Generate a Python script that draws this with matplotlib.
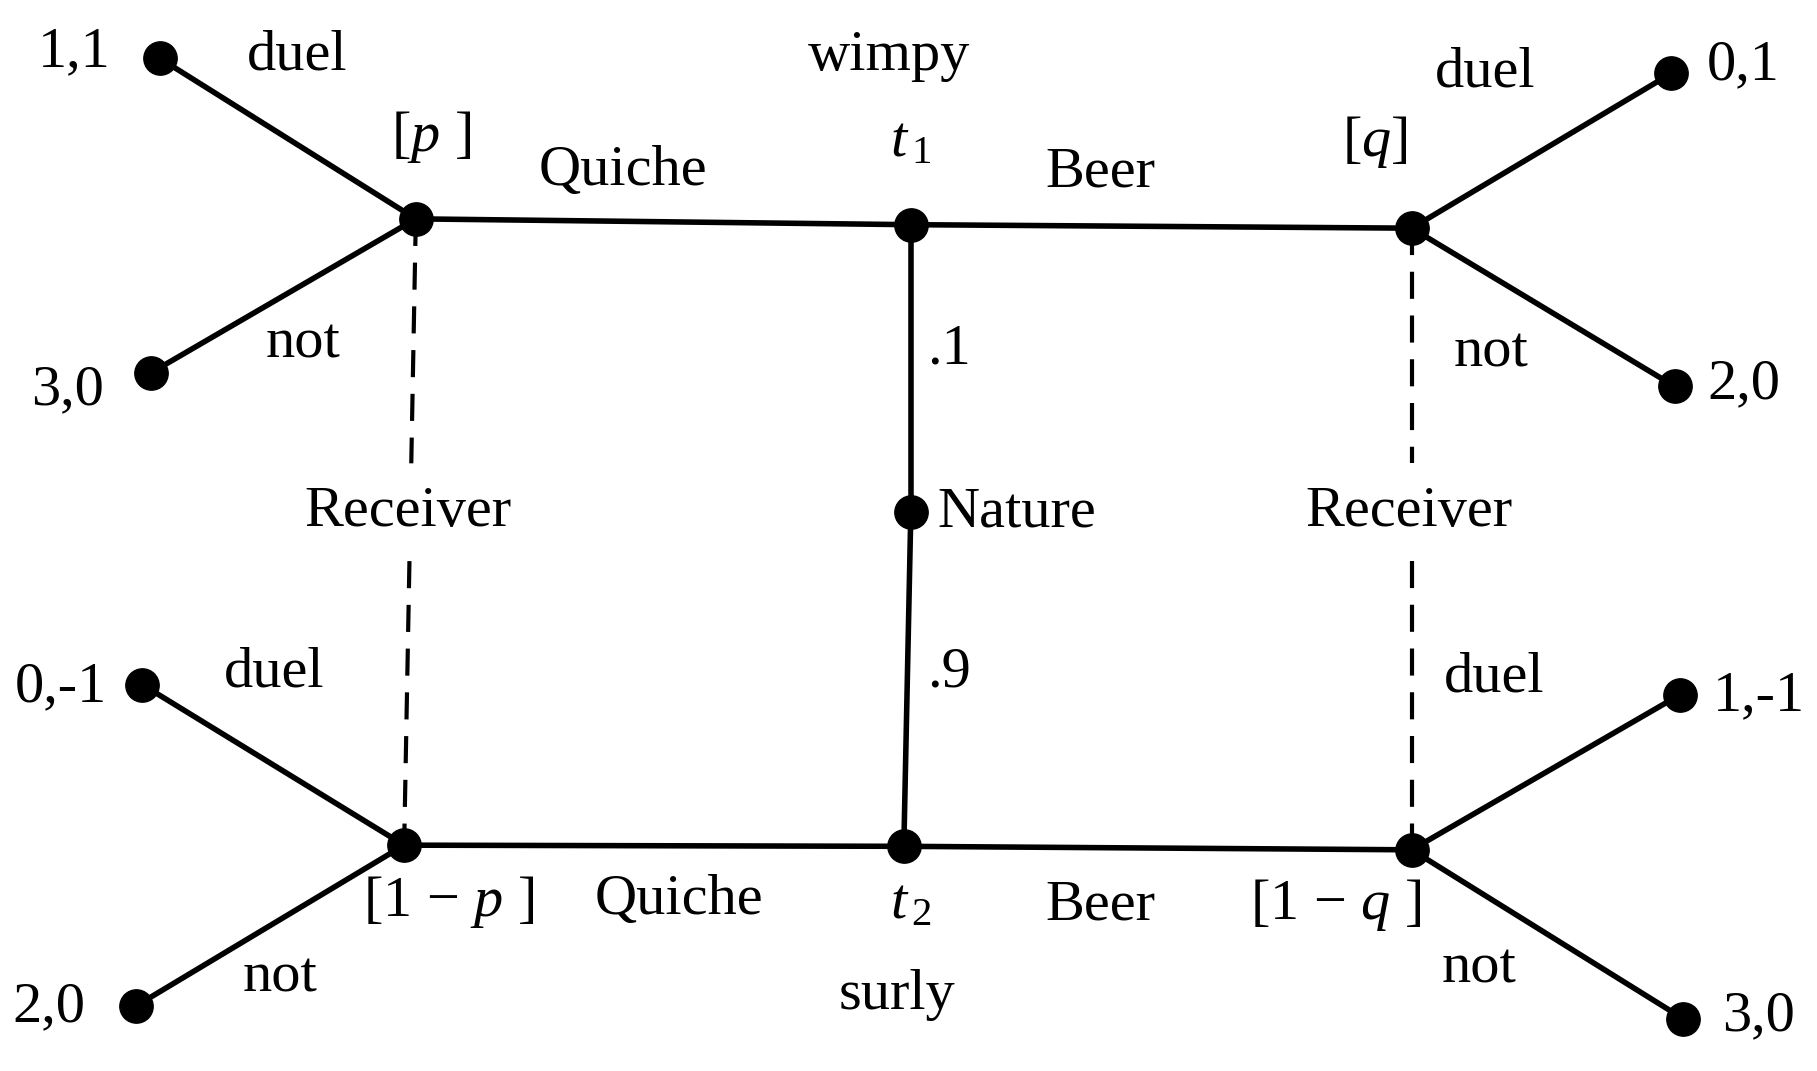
import matplotlib
matplotlib.use("Agg")
import matplotlib.pyplot as plt

plt.rcParams["font.family"] = ["Liberation Serif", "DejaVu Serif"]
plt.rcParams["mathtext.fontset"] = "custom"
plt.rcParams["mathtext.rm"] = "Liberation Serif"
plt.rcParams["mathtext.it"] = "Liberation Serif:italic"

# node positions (diagram units, y grows downward)
node_names = ["t1", "nature", "t2", "p", "q", "1-p", "1-q",
              "a11", "a30", "a01", "a20", "b0m1", "b20", "b1m1", "b30"]
node_x = [782, 782, 776, 357, 1212, 347, 1212,
          137, 130, 1435, 1438, 122, 117, 1442, 1445]
node_y = [193, 440, 727, 188, 196, 726, 730,
          50, 320, 63, 332, 588, 864, 597, 875]

solid_edges = [("t1", "nature"), ("nature", "t2"),
               ("t1", "p"), ("t1", "q"), ("t2", "1-p"), ("t2", "1-q"),
               ("p", "a11"), ("p", "a30"), ("q", "a01"), ("q", "a20"),
               ("1-p", "b0m1"), ("1-p", "b20"), ("1-q", "b1m1"), ("1-q", "b30")]
# information sets, broken where the "Receiver" label sits
dashed_edges = [("p", "1-p"), ("q", "1-q")]
gap_top, gap_bottom = 398, 482

labels = [
    ("1,1", 64, 45), ("duel", 255, 48), ("[$p$ ]", 370, 118),
    ("Quiche", 535, 147), ("wimpy", 763, 48), ("Beer", 945, 148),
    ("[$q$]", 1180, 122), ("duel", 1275, 62), ("0,1", 1497, 56),
    ("not", 260, 295), ("3,0", 58, 335), (".1", 815, 300),
    ("not", 1280, 303), ("2,0", 1497, 330),
    ("Receiver", 350, 440), ("Receiver", 1210, 440),
    ("0,-1", 52, 590), ("duel", 235, 578), (".9", 815, 578),
    ("duel", 1283, 582), ("1,-1", 1510, 598),
    ("[1 $-$ $p$ ]", 385, 775), ("Quiche", 583, 773),
    ("Beer", 945, 778), ("[1 $-$ $q$ ]", 1147, 777),
    ("not", 240, 840), ("surly", 770, 855), ("not", 1270, 832),
    ("2,0", 42, 865), ("3,0", 1510, 873),
]
type_labels = [("$t_{\\,\\mathrm{1}}$", 782, 122), ("$t_{\\,\\mathrm{2}}$", 782, 777)]

pos = {n: (x, y) for n, x, y in zip(node_names, node_x, node_y)}

fig = plt.figure(figsize=(18.17, 10.71), dpi=100)
ax = fig.add_axes([0, 0, 1, 1])
ax.set_xlim(0, 1560)
ax.set_ylim(920, 0)
ax.axis("off")

for a, b in solid_edges:
    (x0, y0), (x1, y1) = pos[a], pos[b]
    ax.plot([x0, x1], [y0, y1], color="black", linewidth=4.0,
            solid_capstyle="round", zorder=2)

for a, b in dashed_edges:
    (x0, y0), (x1, y1) = pos[a], pos[b]
    for ya, yb in [(y0, gap_top), (gap_bottom, y1)]:
        xa = x0 + (x1 - x0) * (ya - y0) / (y1 - y0)
        xb = x0 + (x1 - x0) * (yb - y0) / (y1 - y0)
        ax.plot([xa, xb], [ya, yb], color="black", linewidth=3.0,
                linestyle=(0, (6.5, 4)), zorder=1)

ax.plot(node_x, node_y, "o", color="black", markersize=24, zorder=3,
        linestyle="none")

ax.text(805, 440, "Nature", fontsize=42, ha="left", va="center")
for txt, x, y in labels:
    ax.text(x, y, txt, fontsize=42, ha="center", va="center")
for txt, x, y in type_labels:
    ax.text(x, y, txt, fontsize=42, ha="center", va="center")

fig.savefig("out.png", dpi=100)
